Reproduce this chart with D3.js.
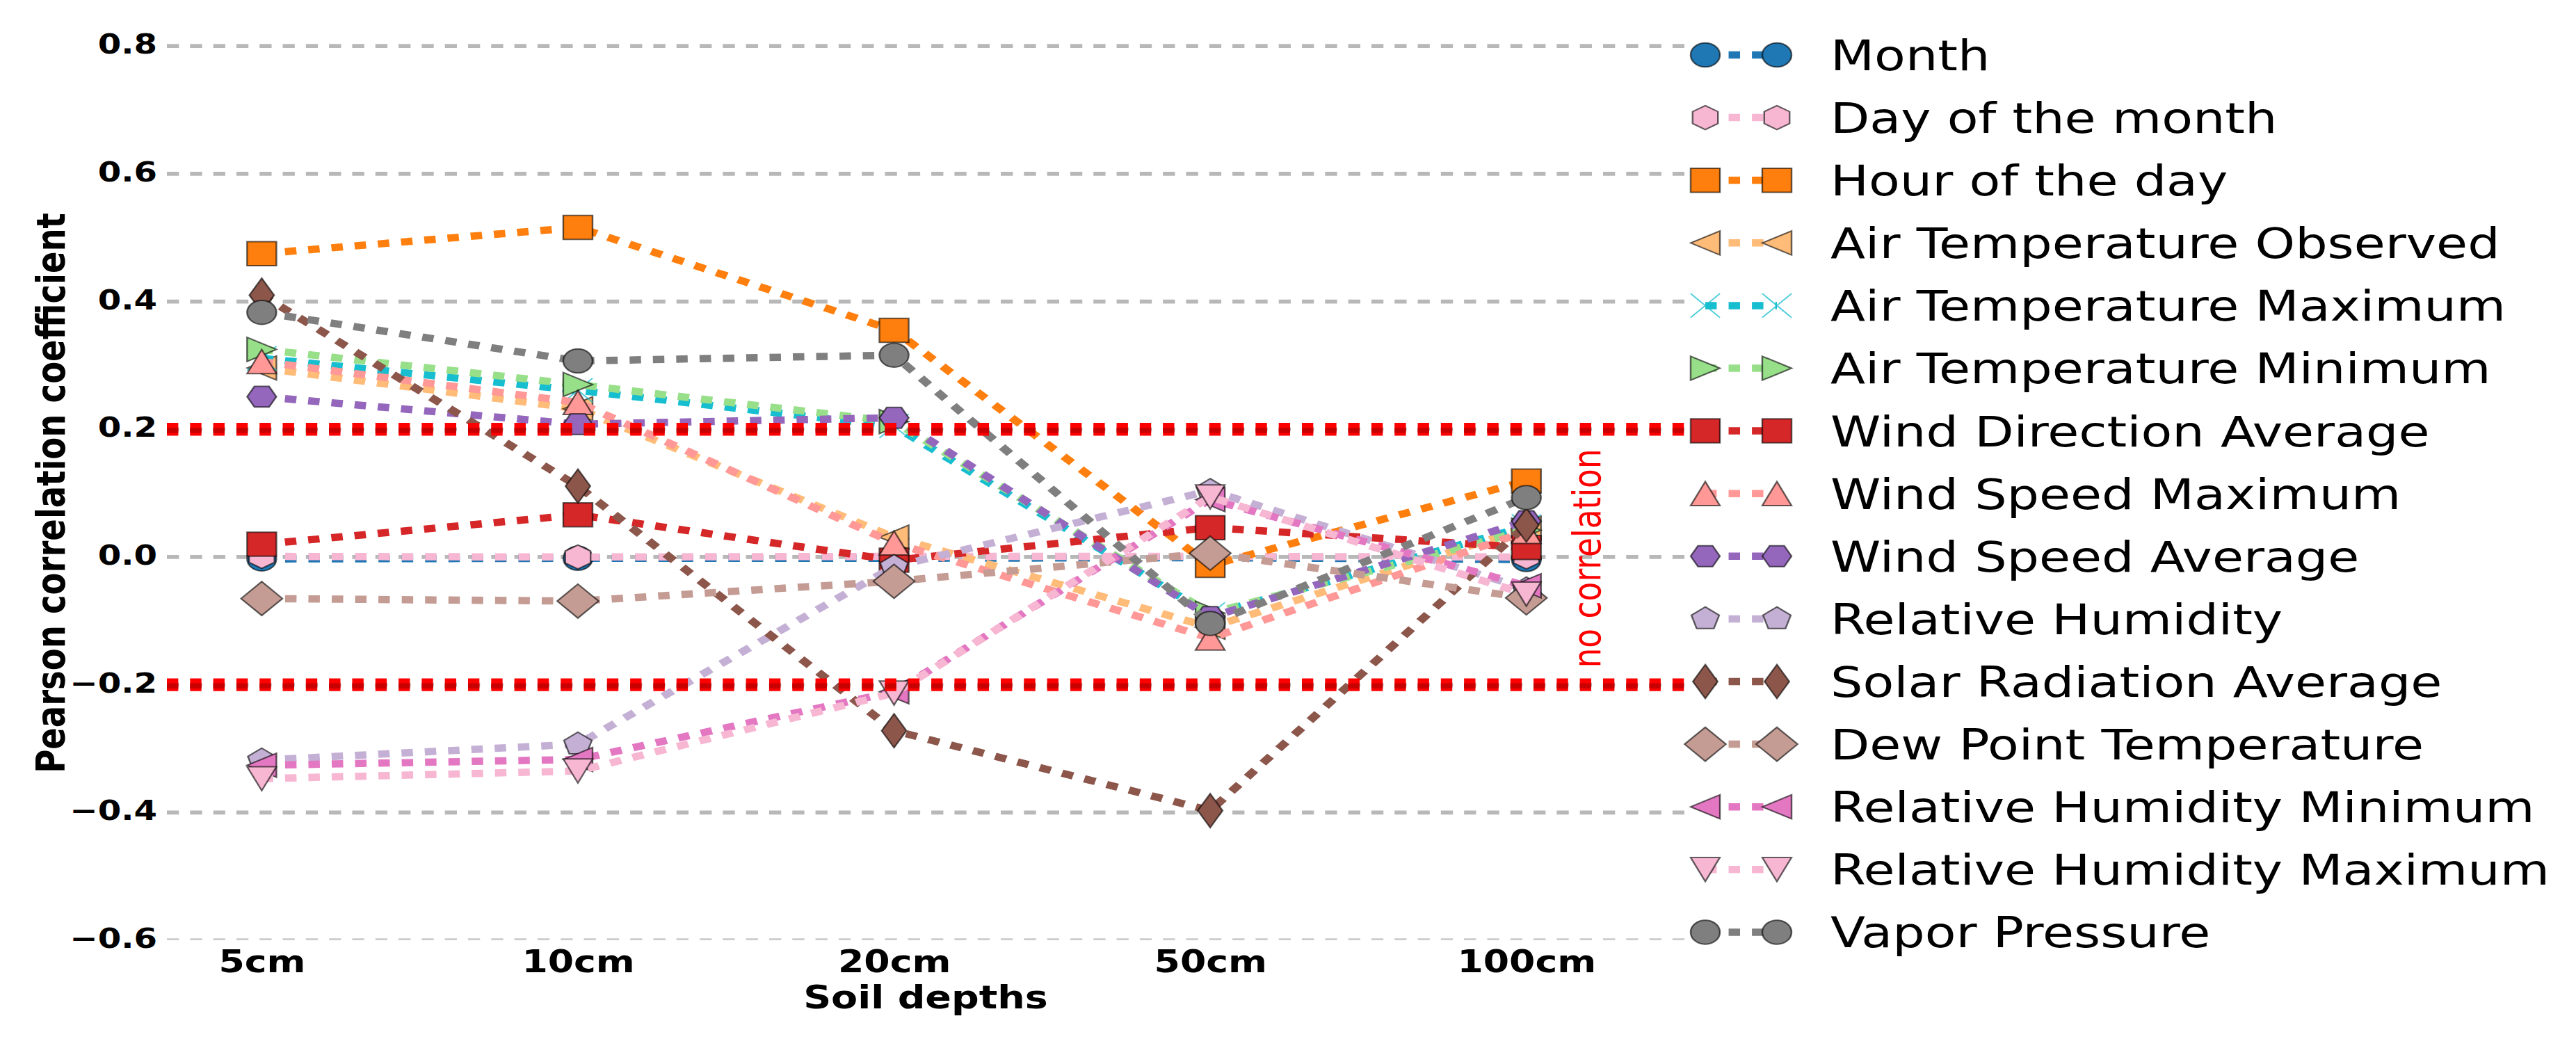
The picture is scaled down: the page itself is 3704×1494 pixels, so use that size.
<!DOCTYPE html>
<html><head><meta charset="utf-8">
<script src="https://cdn.jsdelivr.net/npm/d3@7"></script>
<style>html,body{margin:0;padding:0;background:#fff}</style>
</head><body>
<svg id="chart" width="3704" height="1494"></svg>
<script>
// ---------- data ----------
const depths = ["5cm", "10cm", "20cm", "50cm", "100cm"];
const seriesNames = ["Month", "Day of the month", "Hour of the day", "Air Temperature Observed",
  "Air Temperature Maximum", "Air Temperature Minimum", "Wind Direction Average", "Wind Speed Maximum",
  "Wind Speed Average", "Relative Humidity", "Solar Radiation Average", "Dew Point Temperature",
  "Relative Humidity Minimum", "Relative Humidity Maximum", "Vapor Pressure"];
const month       = [-0.003, -0.002, -0.002, -0.001, -0.004];
const dayOfMonth  = [0.001, 0.0, 0.001, 0.001, 0.0];
const hourOfDay   = [0.475, 0.516, 0.355, -0.013, 0.119];
const airTempObs  = [0.296, 0.232, 0.031, -0.110, 0.045];
const airTempMax  = [0.311, 0.261, 0.205, -0.090, 0.048];
const airTempMin  = [0.325, 0.270, 0.212, -0.088, 0.042];
const windDirAvg  = [0.020, 0.066, -0.005, 0.046, 0.015];
const windSpdMax  = [0.306, 0.242, 0.022, -0.127, 0.040];
const windSpdAvg  = [0.251, 0.208, 0.218, -0.094, 0.056];
const relHum      = [-0.318, -0.293, -0.015, 0.104, -0.050];
const solarRadAvg = [0.410, 0.111, -0.272, -0.397, 0.050];
const dewPoint    = [-0.065, -0.069, -0.038, 0.006, -0.064];
const relHumMin   = [-0.326, -0.317, -0.211, 0.090, -0.045];
const relHumMax   = [-0.347, -0.335, -0.213, 0.094, -0.058];
const vaporPress  = [0.383, 0.307, 0.316, -0.104, 0.093];
const seriesColors = ["#1f77b4", "#f7b6d2", "#ff7f0e", "#ffbb78", "#17becf", "#98df8a", "#d62728", "#ff9896",
  "#9467bd", "#c5b0d5", "#8c564b", "#c49c94", "#e377c2", "#f7b6d2", "#7f7f7f"];
const seriesMarkers = ["o", "h", "s", "<", "x", ">", "s", "^", "H", "p", "d", "D", "<", "v", "o"];
const yTicks = [-0.6, -0.4, -0.2, 0.0, 0.2, 0.4, 0.6, 0.8];
const yTickLabels = ["\u22120.6", "\u22120.4", "\u22120.2", "0.0", "0.2", "0.4", "0.6", "0.8"];
const thresholds = [0.2, -0.2];
const xLabel = "Soil depths";
const yLabel = "Pearson correlation coefficient";
const noteText = "no correlation";

const seriesValues = [month, dayOfMonth, hourOfDay, airTempObs, airTempMax, airTempMin, windDirAvg,
  windSpdMax, windSpdAvg, relHum, solarRadAvg, dewPoint, relHumMin, relHumMax, vaporPress];
const series = seriesNames.map((n, i) => ({name: n, values: seriesValues[i], color: seriesColors[i], marker: seriesMarkers[i]}));

// ---------- layout ----------
const SX = 1.22;             // horizontal stretch of the original figure
const FONT = "DejaVu Sans";
const svg = d3.select("#chart");
const root = svg.append("g").attr("transform", `scale(${SX},1)`);

const xLeft = 240 / SX, xRight = 2422 / SX;
const yTop = 66.2, yBottom = 1352;
const x = d3.scaleLinear().domain([-0.3, 4.5]).range([xLeft, xRight]);
const y = d3.scaleLinear().domain([-0.6, 0.8]).range([yBottom, yTop]);

const MS = 34.5;
function markerPath(t, s) {
  const r = s / 2, h = s * Math.SQRT1_2;
  const poly = (n, a0, rad) => d3.range(n).map(k => {
    const a = (a0 + k * 360 / n) * Math.PI / 180;
    return [rad * Math.cos(a), rad * Math.sin(a)];
  });
  const P = pts => "M" + pts.map(p => p[0].toFixed(2) + "," + p[1].toFixed(2)).join("L") + "Z";
  switch (t) {
    case "o": return `M${r},0A${r},${r} 0 1,1 ${-r},0A${r},${r} 0 1,1 ${r},0Z`;
    case "s": return P([[-r, -r], [r, -r], [r, r], [-r, r]]);
    case "^": return P([[0, -r], [r, r], [-r, r]]);
    case "v": return P([[0, r], [r, -r], [-r, -r]]);
    case "<": return P([[-r, 0], [r, -r], [r, r]]);
    case ">": return P([[r, 0], [-r, -r], [-r, r]]);
    case "D": return P([[0, -h], [h, 0], [0, h], [-h, 0]]);
    case "d": return P([[0, -h], [0.6 * h, 0], [0, h], [-0.6 * h, 0]]);
    case "h": return P(poly(6, -90, r));
    case "H": return P(poly(6, 0, r));
    case "p": return P(poly(5, -90, r));
    case "x": return `M${-r},${-r}L${r},${r}M${-r},${r}L${r},${-r}`;
  }
}
function drawMarker(sel, s, cx, cy) {
  const p = sel.append("path").attr("d", markerPath(s.marker, MS))
    .attr("transform", `translate(${cx},${cy})`);
  if (s.marker === "x") {
    p.attr("fill", "none").attr("stroke", s.color).attr("stroke-width", 1.8).attr("stroke-opacity", 0.75);
  } else {
    p.attr("fill", s.color).attr("stroke", "#000").attr("stroke-opacity", 0.6).attr("stroke-width", 2);
  }
}

// ---------- grid ----------
const grid = root.append("g");
grid.selectAll("line").data(yTicks).join("line")
  .attr("x1", xLeft).attr("x2", xRight)
  .attr("y1", d => y(d) - (d === -0.6 ? 1.4 : 0)).attr("y2", d => y(d) - (d === -0.6 ? 1.4 : 0))
  .attr("stroke", d => d === -0.6 ? "#cccccc" : "#b8b8b8")
  .attr("stroke-width", d => d === -0.6 ? 2.8 : 5.7)
  .attr("stroke-dasharray", "14.2,13.1");

// ---------- axes ----------
const yAxis = root.append("g").attr("transform", `translate(${226 / SX},0)`)
  .call(d3.axisLeft(y).tickValues(yTicks).tickFormat((d, i) => yTickLabels[i]).tickSize(0).tickPadding(0));
yAxis.select(".domain").remove();
yAxis.selectAll("text").attr("dy", null).attr("x", 0).attr("y", 10.5)
  .attr("font-family", FONT).attr("font-weight", "bold").attr("font-size", 39.5).attr("fill", "#000");

const xAxis = root.append("g").attr("transform", `translate(0,${yBottom})`)
  .call(d3.axisBottom(x).tickValues([0, 1, 2, 3, 4]).tickFormat(i => depths[i]).tickSize(0));
xAxis.select(".domain").remove();
xAxis.selectAll("text").attr("dy", null).attr("y", 46)
  .attr("font-family", FONT).attr("font-weight", "bold").attr("font-size", 44).attr("fill", "#000");

root.append("text").text(xLabel)
  .attr("x", (xLeft + xRight) / 2).attr("y", 1450).attr("text-anchor", "middle")
  .attr("font-family", FONT).attr("font-weight", "bold").attr("font-size", 45.5);
root.append("text").text(yLabel)
  .attr("transform", `translate(${92.5 / SX},709) rotate(-90)`).attr("text-anchor", "middle")
  .attr("font-family", FONT).attr("font-weight", "bold").attr("font-size", 46.5);

// ---------- series ----------
const line = d3.line().x((d, i) => x(i)).y(d => y(d));
const plot = root.append("g");
series.forEach(s => {
  const g = plot.append("g");
  g.append("path").attr("d", line(s.values)).attr("fill", "none")
    .attr("stroke", s.color).attr("stroke-width", 10.5).attr("stroke-dasharray", "13.5,14");
  s.values.forEach((v, i) => drawMarker(g, s, x(i), y(v)));
});

// ---------- threshold lines ----------
const th = root.append("g");
th.selectAll("line.red").data(thresholds).join("line").attr("class", "red")
  .attr("x1", xLeft).attr("x2", xRight).attr("y1", d => y(d)).attr("y2", d => y(d))
  .attr("stroke", "#ff0000").attr("stroke-width", 18.3).attr("stroke-dasharray", "13.4,13.9");
th.selectAll("line.dark").data(thresholds).join("line").attr("class", "dark")
  .attr("x1", xLeft).attr("x2", xRight).attr("y1", d => y(d) + 1.5).attr("y2", d => y(d) + 1.5)
  .attr("stroke", "#c80000").attr("stroke-width", 7.5).attr("stroke-dasharray", "13.4,13.9");

root.append("text").text(noteText)
  .attr("transform", `translate(${x(4.2) + 12.5},${y(0) + 2}) rotate(-90)`).attr("text-anchor", "middle")
  .attr("font-family", FONT).attr("font-size", 45.5).attr("fill", "#ff0000");

// ---------- legend ----------
const lx1 = 2452 / SX, lx2 = 2555 / SX, ltx = 2632 / SX;
const leg = root.append("g");
series.forEach((s, i) => {
  const cy = 79 + i * 90.1;
  const g = leg.append("g");
  g.append("line").attr("x1", lx1).attr("x2", lx2).attr("y1", cy).attr("y2", cy)
    .attr("stroke", s.color).attr("stroke-width", 10.5).attr("stroke-dasharray", "13.5,14");
  drawMarker(g, s, lx1, cy);
  drawMarker(g, s, lx2, cy);
  g.append("text").text(s.name).attr("x", ltx).attr("y", cy + 22)
    .attr("font-family", FONT).attr("font-size", 60).attr("fill", "#000");
});
</script>
</body></html>
